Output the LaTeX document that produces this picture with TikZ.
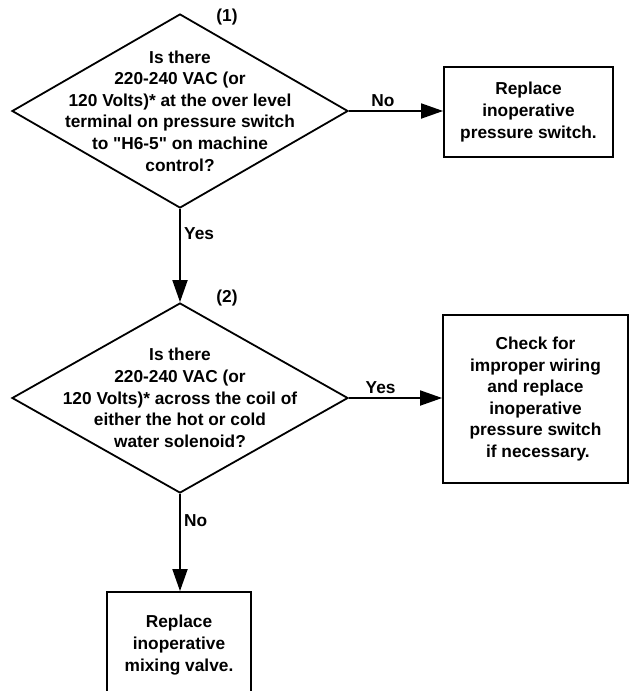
\documentclass[tikz,border=0pt]{standalone}
\usepackage{fontspec}
\setmainfont{Liberation Sans}
\usetikzlibrary{shapes.geometric,arrows.meta}

\begin{document}
\begin{tikzpicture}[x=1pt, y=-1pt,
    txt/.style={align=center, inner sep=0pt, font=\fontsize{17.3}{21.6}\selectfont\bfseries},
    lbl/.style={font=\fontsize{17.3}{21.6}\selectfont\bfseries},
    decision/.style={diamond, draw, line width=1.8pt, inner sep=0pt, minimum width=336pt},
    action/.style={txt, rectangle, draw, line width=1.8pt},
    flow/.style={line width=1.8pt, -{Triangle[length=22pt, width=15pt]}}]
  \useasboundingbox (0,0) rectangle (629,691);

  % questions
  \node[decision, minimum height=194pt] (q1) at (180,111) {};
  \node[txt] (q1t) at (q1) {Is there\\220-240 VAC (or\\120 Volts)* at the over level\\terminal on pressure switch\\to \textquotedbl H6-5\textquotedbl{} on machine\\control?};
  \node[lbl] (n1) at (227,17) {(1)};

  \node[decision, minimum height=190pt] (q2) at (180,398) {};
  \node[txt] (q2t) at (q2) {Is there\\220-240 VAC (or\\120 Volts)* across the coil of\\either the hot or cold\\water solenoid?};
  \node[lbl] (n2) at (227,298) {(2)};

  % actions
  \node[action, minimum width=169pt, minimum height=90pt] (r1) at (528.5,112) {Replace\\inoperative\\pressure switch.};
  \node[action, minimum width=185pt, minimum height=168pt] (r2) at (535.5,399) {Check for\\improper wiring\\and replace\\inoperative\\pressure switch\\\ if necessary.};
  \node[action, minimum width=144pt, minimum height=106pt] (r3) at (179,645) {Replace\\inoperative\\mixing valve.};

  \draw[flow] (q1.east) -- node[lbl, above, pos=0.36] (no1) {No} (q1.east -| r1.west);
  \draw[flow] (q1.south) -- node[lbl, right, pos=0.26] (yes1) {Yes} (q2.north);
  \draw[flow] (q2.east) -- node[lbl, above, pos=0.34] (yes2) {Yes} (q2.east -| r2.west);
  \draw[flow] (q2.south) -- node[lbl, right, pos=0.28] (no2) {No} (q2.south |- r3.north);
\end{tikzpicture}
\end{document}
